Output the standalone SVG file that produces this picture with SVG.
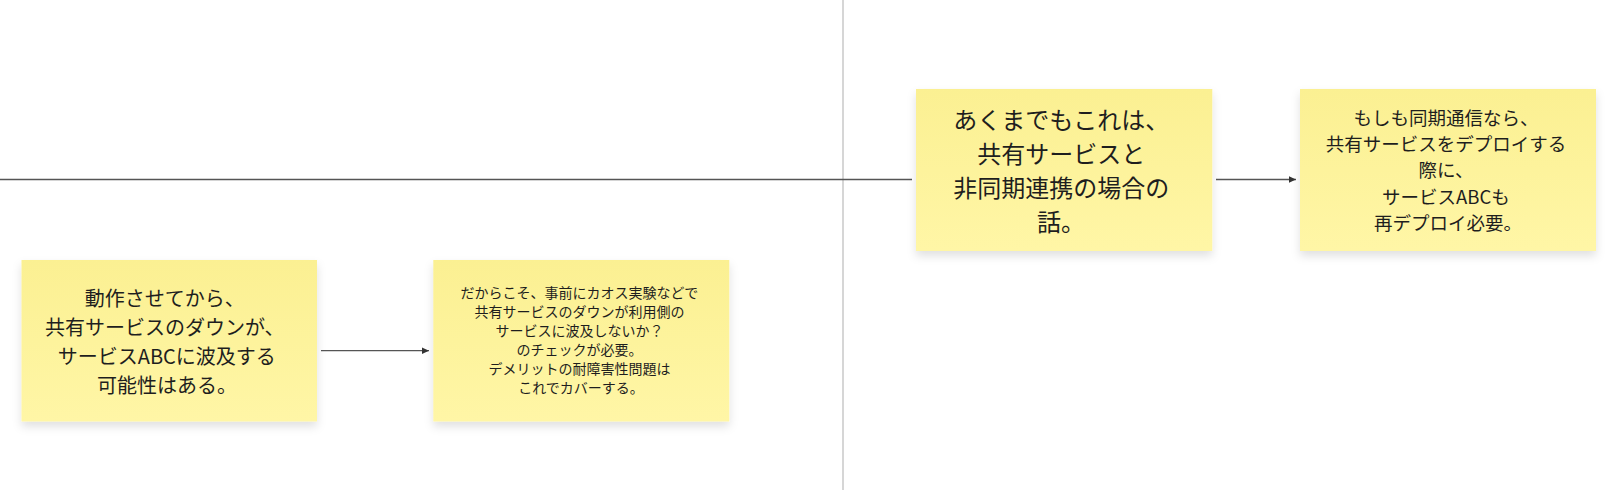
<svg xmlns="http://www.w3.org/2000/svg" width="1614" height="490" viewBox="0 0 1614 490">
<defs>
<linearGradient id="sticky" x1="0" y1="0" x2="0" y2="1">
<stop offset="0" stop-color="#fbf092"/>
<stop offset="1" stop-color="#fff6a6"/>
</linearGradient>
<filter id="shadow" x="-10%" y="-10%" width="125%" height="135%">
<feDropShadow dx="0" dy="5" stdDeviation="5" flood-color="#000" flood-opacity="0.12"/>
</filter>
<marker id="arrow" markerWidth="8" markerHeight="8" refX="7" refY="4" orient="auto" markerUnits="userSpaceOnUse">
<path d="M0,0.8 L7,4 L0,7.2 Z" fill="#333"/>
</marker>
</defs>
<style>
.note{fill:url(#sticky);filter:url(#shadow)}
.t{font-family:"Noto Sans CJK JP","Noto Sans",sans-serif;fill:#1e1e1e;text-anchor:middle;dominant-baseline:central}
.conn{stroke:#555;stroke-width:1.3;fill:none}
</style>
<rect width="1614" height="490" fill="#fff"/>
<g id="connectors">
<line x1="843" y1="0" x2="843" y2="490" stroke="#cccccc" stroke-width="1.6"/>
<line class="conn" x1="0" y1="179.5" x2="912" y2="179.5"/>
<line class="conn" x1="321" y1="350.7" x2="429" y2="350.7" marker-end="url(#arrow)"/>
<line class="conn" x1="1216" y1="179.5" x2="1296" y2="179.5" marker-end="url(#arrow)"/>
</g>
<g id="note1">
<rect class="note" x="21.5" y="260" width="295.5" height="161.5"/>
<text class="t" font-size="20">
<tspan x="167" y="296.7">動作させてから、</tspan>
<tspan x="167" y="326">共有サービスのダウンが、</tspan>
<tspan x="169" y="355">サービスABCに波及する</tspan>
<tspan x="167" y="384">可能性はある。</tspan>
</text>
</g>
<g id="note2">
<rect class="note" x="433.3" y="260" width="296" height="161.5"/>
<text class="t" font-size="14">
<tspan x="581" y="291.7">だからこそ、事前にカオス実験などで</tspan>
<tspan x="581" y="311">共有サービスのダウンが利用側の</tspan>
<tspan x="581" y="330">サービスに波及しないか？</tspan>
<tspan x="581" y="349">のチェックが必要。</tspan>
<tspan x="581" y="368.3">デメリットの耐障害性問題は</tspan>
<tspan x="581" y="386.7">これでカバーする。</tspan>
</text>
</g>
<g id="note3">
<rect class="note" x="916" y="89" width="296.3" height="162"/>
<text class="t" font-size="24">
<tspan x="1064" y="118.3">あくまでもこれは、</tspan>
<tspan x="1064" y="151.7">共有サービスと</tspan>
<tspan x="1064" y="186">非同期連携の場合の</tspan>
<tspan x="1061" y="220">話。</tspan>
</text>
</g>
<g id="note4">
<rect class="note" x="1300" y="89" width="296" height="162"/>
<text class="t" font-size="18.5">
<tspan x="1448" y="116.7">もしも同期通信なら、</tspan>
<tspan x="1448" y="142.7">共有サービスをデプロイする</tspan>
<tspan x="1448" y="169.3">際に、</tspan>
<tspan x="1448" y="196">サービスABCも</tspan>
<tspan x="1448" y="221.7">再デプロイ必要。</tspan>
</text>
</g>
</svg>
